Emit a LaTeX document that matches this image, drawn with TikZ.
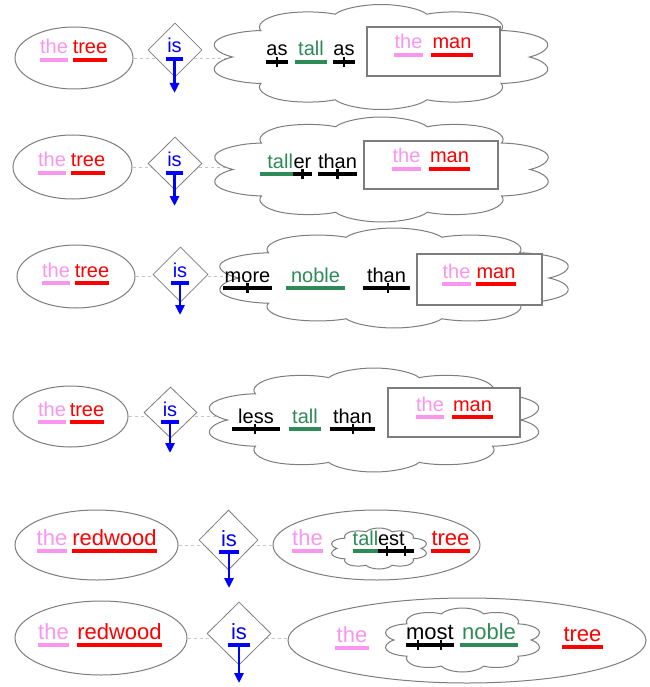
\documentclass[tikz,border=0pt]{standalone}
\usepackage{fontspec}
\setmainfont{Liberation Sans}
\usetikzlibrary{shapes.geometric,shapes.symbols,arrows.meta,backgrounds}

\definecolor{thepink}{RGB}{250,150,238}
\definecolor{nounred}{RGB}{255,0,0}
\definecolor{adjgreen}{RGB}{46,139,87}
\definecolor{verbblue}{RGB}{0,0,255}
\definecolor{shapegray}{RGB}{125,125,125}

% underline of a word, and a cross tick on it
\newcommand{\wordline}[2]{\draw[ul=#2] ([yshift=-6pt]#1.base west) -- ([yshift=-6pt]#1.base east);}
\newcommand{\wordtick}[2]{\draw[tick] ([xshift=#2pt,yshift=-6pt]#1.base) ++(0,-5) -- ++(0,10);}

\begin{document}
\begin{tikzpicture}[x=1pt,y=-1pt,>={Triangle[length=10pt,width=9pt]}]
	
	% Styles for the diagram parts
	\tikzset{
		subj/.style={ellipse,draw=shapegray,line width=1pt,fill=white,inner sep=0pt},
		verb/.style={diamond,draw=shapegray,line width=0.8pt,fill=white,inner sep=0pt},
		puff/.style={cloud,cloud puffs=10,cloud puff arc=140,transform shape,
			draw=shapegray,line width=1pt,fill=white,inner sep=0pt},
		objbox/.style={rectangle,draw=shapegray,line width=1.2pt,fill=white,inner sep=0pt},
		wd/.style={anchor=base,inner sep=0pt,font=\fontsize{20}{24}\selectfont,text=#1},
		wdbig/.style={wd=#1,font=\fontsize{22}{26}\selectfont},
		ul/.style={draw=#1,line width=3.5pt},
		tick/.style={draw=black,line width=2.5pt},
		isbar/.style={draw=verbblue,line width=4pt},
		isarrow/.style={draw=verbblue,line width=2.5pt,->},
		link/.style={draw=gray!45,dashed,line width=0.8pt}
	}
	
	\useasboundingbox (0,0) rectangle (649,687);
	
	%========================================
	% Row 1: the tree is as tall as the man
	%========================================
	\node[subj,minimum width=118pt,minimum height=62pt] (Subj1) at (74,58) {};
	\node[verb,minimum width=54pt,minimum height=54pt] (Verb1) at (175,50) {};
	\node[puff,minimum size=105pt,xscale=3.3] (Cloud1) at (381,57) {};
	\node[objbox,minimum width=133pt,minimum height=49pt] (Box1) at (433.5,51.5) {};
	
	\node[wd=thepink,minimum width=26pt] (TheS1) at (54,54) {the};
	\node[wd=nounred,minimum width=32pt] (TreeS1) at (90,54) {tree};
	\node[wd=verbblue,minimum width=17pt] (IsV1) at (174.5,53) {is};
	\node[wd=black,minimum width=20pt] (AsA1) at (277,56) {as};
	\node[wd=adjgreen,minimum width=32pt] (Tall1) at (311,56) {tall};
	\node[wd=black,minimum width=22pt] (AsB1) at (344,56) {as};
	\node[wd=thepink,minimum width=29pt] (TheO1) at (408.5,49) {the};
	\node[wd=nounred,minimum width=42pt] (ManO1) at (452,49) {man};
	
	\wordline{TheS1}{thepink} \wordline{TreeS1}{nounred}
	\wordline{AsA1}{black} \wordline{Tall1}{adjgreen} \wordline{AsB1}{black}
	\wordline{TheO1}{thepink} \wordline{ManO1}{nounred}
	\wordtick{AsA1}{0} \wordtick{AsB1}{0}
	
	\coordinate (Tip1) at (174.5,93);
	\draw[isbar] ([yshift=-6pt]IsV1.base west) -- ([yshift=-6pt]IsV1.base east);
	\draw[isarrow] ([yshift=-6pt]IsV1.base) -- (Tip1);
	
	%========================================
	% Row 2: the tree is taller than the man
	%========================================
	\node[subj,minimum width=119pt,minimum height=64pt] (Subj2) at (72.5,167) {};
	\node[verb,minimum width=54pt,minimum height=53pt] (Verb2) at (175,163.5) {};
	\node[puff,minimum size=105pt,xscale=3.3] (Cloud2) at (381.5,169.5) {};
	\node[objbox,minimum width=134pt,minimum height=48pt] (Box2) at (431,165) {};
	
	\node[wd=thepink,minimum width=26pt] (TheS2) at (52,167) {the};
	\node[wd=nounred,minimum width=32pt] (TreeS2) at (88,167) {tree};
	\node[wd=verbblue,minimum width=17pt] (IsV2) at (174.5,167) {is};
	\node[wd=adjgreen,text width=33pt,align=right] (Tall2) at (276.5,168) {tall};
	\node[wd=black,minimum width=19pt] (Er2) at (302.5,168) {er};
	\node[wd=black,minimum width=39pt] (Than2) at (337.5,168) {than};
	\node[wd=thepink,minimum width=29pt] (TheO2) at (406.5,163) {the};
	\node[wd=nounred,minimum width=41pt] (ManO2) at (449.5,163) {man};
	
	\wordline{TheS2}{thepink} \wordline{TreeS2}{nounred}
	\wordline{Tall2}{adjgreen} \wordline{Er2}{black} \wordline{Than2}{black}
	\wordline{TheO2}{thepink} \wordline{ManO2}{nounred}
	\wordtick{Er2}{0} \wordtick{Than2}{0}
	
	\coordinate (Tip2) at (174.5,206);
	\draw[isbar] ([yshift=-6pt]IsV2.base west) -- ([yshift=-6pt]IsV2.base east);
	\draw[isarrow] ([yshift=-6pt]IsV2.base) -- (Tip2);
	
	%========================================
	% Row 3: the tree is more noble than the man
	%========================================
	\node[subj,minimum width=118pt,minimum height=63pt] (Subj3) at (76,276.5) {};
	\node[verb,minimum width=55pt,minimum height=55pt] (Verb3) at (180.5,274.5) {};
	\node[puff,minimum size=100pt,xscale=3.62] (Cloud3) at (394,278) {};
	\node[objbox,minimum width=125pt,minimum height=51pt] (Box3) at (479.5,279.5) {};
	
	\node[wd=thepink,minimum width=26pt] (TheS3) at (56,277) {the};
	\node[wd=nounred,minimum width=32pt] (TreeS3) at (92,277) {tree};
	\node[wd=verbblue,minimum width=18pt] (IsV3) at (180,277) {is};
	\node[wd=black,minimum width=49pt] (More3) at (247.5,282) {more};
	\node[wd=adjgreen,minimum width=59pt] (Noble3) at (315.5,282) {noble};
	\node[wd=black,minimum width=47pt] (Than3) at (386.5,282) {than};
	\node[wd=thepink,minimum width=27pt] (TheO3) at (456.5,278) {the};
	\node[wd=nounred,minimum width=38pt] (ManO3) at (496,278) {man};
	
	\wordline{TheS3}{thepink} \wordline{TreeS3}{nounred}
	\wordline{More3}{black} \wordline{Noble3}{adjgreen} \wordline{Than3}{black}
	\wordline{TheO3}{thepink} \wordline{ManO3}{nounred}
	\wordtick{More3}{0} \wordtick{Than3}{1.5}
	
	\coordinate (Tip3) at (180,315);
	\draw[isbar] ([yshift=-6pt]IsV3.base west) -- ([yshift=-6pt]IsV3.base east);
	\draw[isarrow] ([yshift=-6pt]IsV3.base) -- (Tip3);
	
	%========================================
	% Row 4: the tree is less tall than the man
	%========================================
	\node[subj,minimum width=115pt,minimum height=61pt] (Subj4) at (70.5,416.5) {};
	\node[verb,minimum width=53pt,minimum height=51pt] (Verb4) at (170.5,412.5) {};
	\node[puff,minimum size=104pt,xscale=3.29] (Cloud4) at (374,420) {};
	\node[objbox,minimum width=132pt,minimum height=49pt] (Box4) at (454,412.5) {};
	
	\node[wd=thepink,minimum width=26pt] (TheS4) at (52,416) {the};
	\node[wd=nounred,minimum width=32pt] (TreeS4) at (87,416) {tree};
	\node[wd=verbblue,minimum width=18pt] (IsV4) at (170,416) {is};
	\node[wd=black,minimum width=48pt] (Less4) at (256,423) {less};
	\node[wd=adjgreen,minimum width=32pt] (Tall4) at (305,423) {tall};
	\node[wd=black,minimum width=45pt] (Than4) at (352.5,423) {than};
	\node[wd=thepink,minimum width=28pt] (TheO4) at (430,411) {the};
	\node[wd=nounred,minimum width=41pt] (ManO4) at (472.5,411) {man};
	
	\wordline{TheS4}{thepink} \wordline{TreeS4}{nounred}
	\wordline{Less4}{black} \wordline{Tall4}{adjgreen} \wordline{Than4}{black}
	\wordline{TheO4}{thepink} \wordline{ManO4}{nounred}
	\wordtick{Less4}{-1} \wordtick{Than4}{0.5}
	
	\coordinate (Tip4) at (170,453);
	\draw[isbar] ([yshift=-6pt]IsV4.base west) -- ([yshift=-6pt]IsV4.base east);
	\draw[isarrow] ([yshift=-6pt]IsV4.base) -- (Tip4);
	
	%========================================
	% Row 5: the redwood is the tallest tree
	%========================================
	\node[subj,minimum width=163pt,minimum height=70pt] (Subj5) at (96.5,545) {};
	\node[verb,minimum width=59pt,minimum height=60pt] (Verb5) at (228.5,540) {};
	\node[subj,minimum width=207pt,minimum height=70pt] (Pred5) at (376.5,545) {};
	\node[puff,minimum size=41pt,xscale=2.4] (Cloud5) at (379,548.5) {};
	
	\node[wdbig=thepink,minimum width=28pt] (TheS5) at (52,545) {the};
	\node[wdbig=nounred,minimum width=81pt] (RedwoodS5) at (114.5,545) {redwood};
	\node[wdbig=verbblue,minimum width=20pt] (IsV5) at (229,546) {is};
	\node[wdbig=thepink,minimum width=29pt] (TheP5) at (307.5,545) {the};
	\node[wd=adjgreen,minimum width=25pt] (Tall5) at (365.5,545) {tall};
	\node[wd=black,text width=36pt,align=left] (Est5) at (396,545) {est};
	\node[wdbig=nounred,minimum width=35pt] (TreeP5) at (450.5,545) {tree};
	
	\wordline{TheS5}{thepink} \wordline{RedwoodS5}{nounred}
	\wordline{TheP5}{thepink} \wordline{Tall5}{adjgreen} \wordline{Est5}{black}
	\wordline{TreeP5}{nounred}
	\wordtick{Est5}{-9} \wordtick{Est5}{9}
	
	\coordinate (Tip5) at (229,588);
	\draw[isbar] ([yshift=-6pt]IsV5.base west) -- ([yshift=-6pt]IsV5.base east);
	\draw[isarrow] ([yshift=-6pt]IsV5.base) -- (Tip5);
	
	%========================================
	% Row 6: the redwood is the most noble tree
	%========================================
	\node[subj,minimum width=172pt,minimum height=74pt] (Subj6) at (101,638) {};
	\node[verb,minimum width=64pt,minimum height=63pt] (Verb6) at (239,633.5) {};
	\node[subj,minimum width=358pt,minimum height=85pt] (Pred6) at (467,640.5) {};
	\node[puff,minimum size=64pt,xscale=2.5] (Cloud6) at (462.5,640) {};
	
	\node[wdbig=thepink,minimum width=31pt] (TheS6) at (53.5,639) {the};
	\node[wdbig=nounred,minimum width=85pt] (RedwoodS6) at (119.5,639) {redwood};
	\node[wdbig=verbblue,minimum width=22pt] (IsV6) at (239,639) {is};
	\node[wdbig=thepink,minimum width=34pt] (TheP6) at (352,642) {the};
	\node[wdbig=black,minimum width=46pt] (Most6) at (430,639) {most};
	\node[wdbig=adjgreen,minimum width=58pt] (Noble6) at (489,639) {noble};
	\node[wdbig=nounred,minimum width=41pt] (TreeP6) at (582.5,641) {tree};
	
	\wordline{TheS6}{thepink} \wordline{RedwoodS6}{nounred}
	\wordline{TheP6}{thepink} \wordline{Most6}{black} \wordline{Noble6}{adjgreen}
	\wordline{TreeP6}{nounred}
	\wordtick{Most6}{-12} \wordtick{Most6}{11}
	
	\coordinate (Tip6) at (239,683);
	\draw[isbar] ([yshift=-6pt]IsV6.base west) -- ([yshift=-6pt]IsV6.base east);
	\draw[isarrow] ([yshift=-6pt]IsV6.base) -- (Tip6);
	
	% Dashed links behind the shapes
	\begin{scope}[on background layer]
		\draw[link] (Subj1) -- (Subj1 -| Cloud1);
		\draw[link] (Subj2) -- (Subj2 -| Cloud2);
		\draw[link] (Subj3) -- (Subj3 -| Cloud3);
		\draw[link] (Subj4) -- (Subj4 -| Cloud4);
		\draw[link] (Subj5) -- (Subj5 -| Pred5);
		\draw[link] (Subj6) -- (Subj6 -| Pred6);
	\end{scope}
	
\end{tikzpicture}
\end{document}
